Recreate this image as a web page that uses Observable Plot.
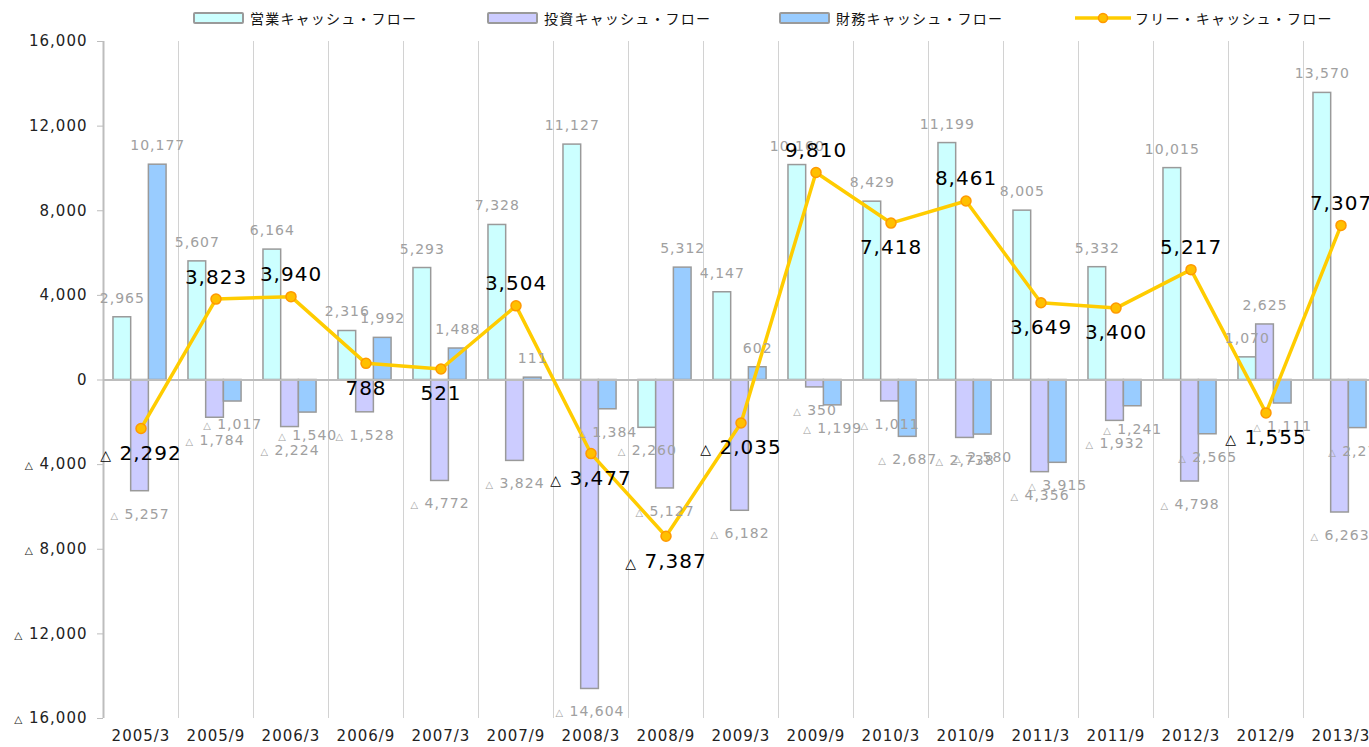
<!DOCTYPE html>
<html><head><meta charset="utf-8">
<script src="https://cdn.jsdelivr.net/npm/d3@7"></script>
<script src="https://cdn.jsdelivr.net/npm/@observablehq/plot@0.6"></script>
<style>
body{margin:0;overflow:hidden;background:#fff;font-family:"Noto Sans CJK JP","Noto Sans",sans-serif;}
#legend{position:relative;height:30px;width:1369px;font-size:14px;letter-spacing:1.2px;color:#111;}
.item{position:absolute;top:9px;display:flex;align-items:center;height:18px;white-space:nowrap;}
.sw{width:47px;height:8px;border:2px solid #9a9a9a;border-radius:2px;margin-right:6px;}
#chart svg{display:block;overflow:visible;max-width:none !important;}
#chart svg text{letter-spacing:1px;}
</style>
</head><body>
<div id="legend"></div>
<div id="chart"></div>
<script>
const categories = ["2005/3","2005/9","2006/3","2006/9","2007/3","2007/9","2008/3","2008/9","2009/3","2009/9","2010/3","2010/9","2011/3","2011/9","2012/3","2012/9","2013/3"];
const operating = [2965,5607,6164,2316,5293,7328,11127,-2260,4147,10160,8429,11199,8005,5332,10015,1070,13570];
const investing = [-5257,-1784,-2224,-1528,-4772,-3824,-14604,-5127,-6182,-350,-1011,-2738,-4356,-1932,-4798,2625,-6263];
const financing = [10177,-1017,-1540,1992,1488,111,-1384,5312,602,-1199,-2687,-2580,-3915,-1241,-2565,-1111,-2273];
const freeCF = [-2292,3823,3940,788,521,3504,-3477,-7387,-2035,9810,7418,8461,3649,3400,5217,-1555,7307];
const yTicks = [16000,12000,8000,4000,0,-4000,-8000,-12000,-16000];
const seriesNames = ["営業キャッシュ・フロー","投資キャッシュ・フロー","財務キャッシュ・フロー","フリー・キャッシュ・フロー"];
const seriesColors = ["#CCFFFF","#CCCCFF","#99CCFF","#FFCC00"];

const fmt = d => (d < 0 ? "△ " : "") + d3.format(",")(Math.abs(d));

// legend
const legend = document.getElementById("legend");
const legendLeft = [193, 487, 779, 1075];
seriesNames.forEach((name, k) => {
  const it = document.createElement("div");
  it.className = "item";
  it.style.left = legendLeft[k] + "px";
  if (k < 3) {
    it.innerHTML = `<span class="sw" style="background:${seriesColors[k]}"></span><span>${name}</span>`;
  } else {
    it.innerHTML = `<svg width="58" height="14" style="margin-right:2px"><line x1="0" y1="7" x2="56" y2="7" stroke="${seriesColors[3]}" stroke-width="3.5"/><circle cx="28" cy="7" r="4.5" fill="#FFC000" stroke="#FF9900" stroke-width="1.5"/></svg><span>${name}</span>`;
  }
  legend.appendChild(it);
});

const rows = categories.map((c, i) => ({
  cat: c, op: operating[i], inv: investing[i], fin: financing[i], fcf: freeCF[i],
  prev: i > 0 ? freeCF[i - 1] : null
}));

const W = 1380, ML = 103, MR = 2;
const bw = (W - ML - MR) / categories.length;
const barW = bw * 0.236;
const off0 = bw * 0.133;
const inset = k => ({insetLeft: off0 + k * barW, insetRight: bw - off0 - (k + 1) * barW});
const ldx = k => off0 + (k + 0.5) * barW - bw / 2;
const numFont = '"DejaVu Sans", sans-serif';

const keys = ["op", "inv", "fin"];
const barMarks = keys.map((key, k) => Plot.barY(rows, {x: "cat", y: key, fill: seriesColors[k], stroke: "#9a9a9a", strokeWidth: 1.5, ...inset(k)}));
const labelMarks = keys.flatMap((key, k) => [
  Plot.text(rows.filter(d => d[key] >= 0), {x: "cat", y: key, text: d => fmt(d[key]), dx: ldx(k), dy: -19, fill: "#a0a0a0", fontSize: 14}),
  Plot.text(rows.filter(d => d[key] < 0), {x: "cat", y: key, text: d => fmt(d[key]), dx: ldx(k), dy: 23, fill: "#a0a0a0", fontSize: 14})
]);
const fcfBelow = d => d.fcf < 0 || (d.prev != null && d.fcf < d.prev);

const chart = Plot.plot({
  width: W, height: 717,
  marginLeft: ML, marginRight: MR, marginTop: 11, marginBottom: 29,
  style: {fontFamily: numFont, fontSize: "14px", color: "#222", background: "#fff"},
  x: {domain: categories, padding: 0, label: null, axis: null},
  y: {domain: [-16000, 16000], label: null, axis: null},
  marks: [
    Plot.ruleX(categories.slice(1), {x: d => d, dx: -bw / 2, stroke: "#d2d2d2", strokeWidth: 1}),
    Plot.ruleX(categories.slice(0, 1), {x: d => d, dx: -bw / 2, stroke: "#bdbdbd", strokeWidth: 2}),
    Plot.axisY({ticks: yTicks, tickFormat: fmt, tickSize: 6, tickPadding: 10, fontSize: 15, stroke: "#bdbdbd", fill: "#222", label: null}),
    Plot.axisX({tickSize: 0, tickPadding: 12, fontSize: 15, fill: "#222", label: null}),
    ...barMarks,
    Plot.ruleY([0], {stroke: "#bdbdbd", strokeWidth: 2}),
    Plot.lineY(rows, {x: "cat", y: "fcf", stroke: "#FFCC00", strokeWidth: 3.5}),
    Plot.dot(rows, {x: "cat", y: "fcf", r: 5, fill: "#FFC000", stroke: "#FF9900", strokeWidth: 1.5}),
    ...labelMarks,
    Plot.text(rows.filter(d => !fcfBelow(d)), {x: "cat", y: "fcf", text: d => fmt(d.fcf), dy: -22, fill: "#000", fontSize: 20}),
    Plot.text(rows.filter(fcfBelow), {x: "cat", y: "fcf", text: d => fmt(d.fcf), dy: 25, fill: "#000", fontSize: 20})
  ]
});
// shrink the "△" sign like the original
chart.querySelectorAll("text").forEach(t => {
  const s = t.textContent;
  if (s.startsWith("△") && t.children.length === 0) {
    t.textContent = "";
    const ns = "http://www.w3.org/2000/svg";
    const tri = document.createElementNS(ns, "tspan");
    tri.setAttribute("font-size", "0.7em");
    tri.textContent = "△";
    t.appendChild(tri);
    t.appendChild(document.createTextNode(s.slice(1)));
  }
});
document.getElementById("chart").appendChild(chart);
</script>
</body></html>
